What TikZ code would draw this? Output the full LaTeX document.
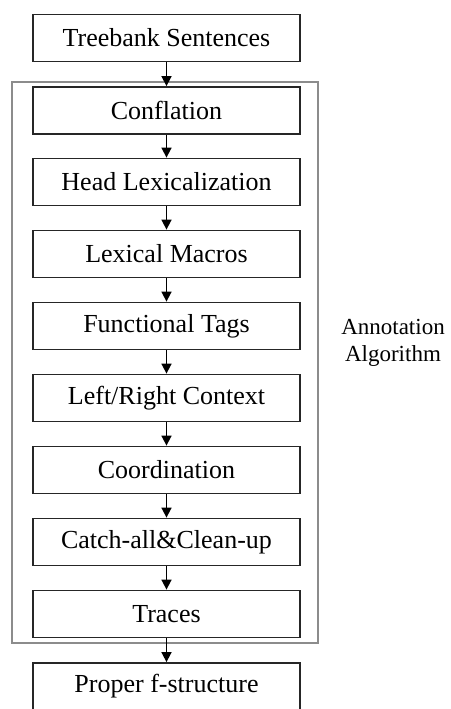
\documentclass[tikz,border=0pt]{standalone}
\usepackage{fontspec}
\setmainfont{Liberation Serif}
\usetikzlibrary{arrows.meta}
\begin{document}
\begin{tikzpicture}[x=1pt,y=-1pt,
  stepbox/.style={draw=black!85,line width=1.8pt,minimum width=267pt,minimum height=47pt,inner sep=0pt,font=\fontsize{26}{28}\selectfont},
  flow/.style={line width=1.6pt,-{Triangle[length=10pt,width=10pt]}},
  groupbox/.style={draw=black!45,line width=1.5pt}]
\useasboundingbox (0,0) rectangle (450,709);
\draw[groupbox] (12,82) rectangle (318,643);
\node[stepbox] (n0) at (166.5,38) {Treebank Sentences};
\node[stepbox] (n1) at (166.5,110.5) {Conflation};
\node[stepbox] (n2) at (166.5,182) {Head Lexicalization};
\node[stepbox] (n3) at (166.5,254) {Lexical Macros};
\node[stepbox] (n4) at (166.5,326) {Functional Tags};
\node[stepbox] (n5) at (166.5,398) {Left/Right Context};
\node[stepbox] (n6) at (166.5,470) {Coordination};
\node[stepbox] (n7) at (166.5,542) {Catch-all\&Clean-up};
\node[stepbox] (n8) at (166.5,614) {Traces};
\node[stepbox] (n9) at (166.5,686.5) {Proper f-structure};
\foreach \a/\b in {n0/n1,n1/n2,n2/n3,n3/n4,n4/n5,n5/n6,n6/n7,n7/n8,n8/n9}
  \draw[flow] (\a.south) -- (\b.north);
\node[align=center,font=\fontsize{23}{27}\selectfont] (lab) at (393,343) {Annotation\\Algorithm};
\end{tikzpicture}
\end{document}
